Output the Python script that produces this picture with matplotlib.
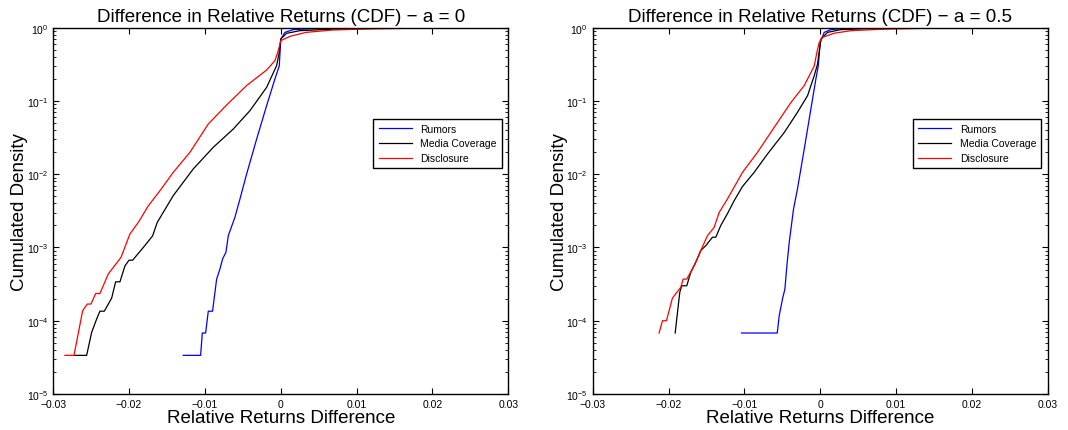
import numpy as np
import matplotlib
matplotlib.use('Agg')
import matplotlib.pyplot as plt

plt.rcParams['font.family'] = ['Liberation Sans', 'DejaVu Sans']
plt.rcParams['mathtext.fontset'] = 'custom'
plt.rcParams['mathtext.rm'] = 'Liberation Sans'

labels = ['Rumors', 'Media Coverage', 'Disclosure']
colors = ['#0000ff', '#000000', '#ff0000']

# a = 0 panel
rumors_x0 = [-0.01286, -0.01057, -0.01035, -0.00991, -0.00956, -0.0090, -0.00868, -0.00846,
             -0.00802, -0.00767, -0.00723, -0.00692, -0.00604, -0.00538, -0.00451, -0.00319,
             -0.00187, -0.00077, -0.0002, 0.0, 0.00055, 0.00165, 0.0047, 0.0113, 0.02]
rumors_y0 = [3.37e-5, 3.37e-5, 6.8e-5, 6.8e-5, 1.35e-4, 1.35e-4, 2.45e-4, 3.7e-4,
             5.1e-4, 7.0e-4, 8.6e-4, 1.45e-3, 2.6e-3, 4.6e-3, 0.010, 0.030,
             0.086, 0.20, 0.30, 0.70, 0.863, 0.94, 0.975, 0.995, 1.0]

media_x0 = [-0.0272, -0.0256, -0.02495, -0.02429, -0.02385, -0.02327, -0.0223, -0.02178,
            -0.02121, -0.02055, -0.02002, -0.01954, -0.01813, -0.0169, -0.01629, -0.01418,
            -0.01154, -0.0089, -0.00626, -0.00407, -0.00187, -0.00055, -0.0002, 0.0,
            0.00077, 0.00253, 0.0069, 0.0157, 0.0293]
media_y0 = [3.37e-5, 3.37e-5, 6.9e-5, 1.05e-4, 1.35e-4, 1.35e-4, 2.04e-4, 3.4e-4,
            3.4e-4, 5.6e-4, 6.7e-4, 6.7e-4, 1.0e-3, 1.44e-3, 2.2e-3, 5.1e-3,
            0.0118, 0.0233, 0.0414, 0.0736, 0.153, 0.303, 0.46, 0.70,
            0.837, 0.91, 0.955, 0.99, 1.0]

discl_x0 = [-0.02846, -0.02727, -0.02613, -0.02552, -0.02503, -0.02442, -0.02385, -0.02275,
            -0.02108, -0.01989, -0.01879, -0.01747, -0.01593, -0.01418, -0.01198, -0.00956,
            -0.00714, -0.00451, -0.00187, -0.00077, -0.00033, 0.0, 0.00123, 0.00334,
            0.00692, 0.0113, 0.02, 0.0293]
discl_y0 = [3.37e-5, 3.37e-5, 1.37e-4, 1.69e-4, 1.69e-4, 2.35e-4, 2.35e-4, 4.35e-4,
            7.3e-4, 1.53e-3, 2.2e-3, 3.7e-3, 5.96e-3, 0.0106, 0.0199, 0.0484,
            0.088, 0.162, 0.264, 0.355, 0.486, 0.665, 0.762, 0.863,
            0.93, 0.96, 0.99, 1.0]

# a = 0.5 panel
rumors_x5 = [-0.01038, -0.00567, -0.00541, -0.00497, -0.00466, -0.0044, -0.00409, -0.00352,
             -0.003, -0.00211, -0.00123, -0.00057, -0.00026, 0.0, 0.00053, 0.00141,
             0.00317, 0.00625, 0.015]
rumors_y5 = [6.8e-5, 6.8e-5, 1.17e-4, 2.0e-4, 2.7e-4, 5.6e-4, 1.17e-3, 3.35e-3,
             6.3e-3, 0.022, 0.078, 0.20, 0.30, 0.63, 0.863, 0.94,
             0.98, 1.0, 1.0]

media_x5 = [-0.01913, -0.01852, -0.01826, -0.0176, -0.01707, -0.01641, -0.01575, -0.01509,
            -0.01421, -0.01377, -0.01311, -0.01223, -0.01135, -0.01025, -0.00871, -0.00695,
            -0.00475, -0.003, -0.00167, -0.00079, -0.00035, -0.00009, 0.00009, 0.00097,
            0.00273, 0.0063, 0.02]
media_y5 = [6.8e-5, 2.45e-4, 3.0e-4, 3.0e-4, 4.6e-4, 6.3e-4, 9.1e-4, 1.06e-3,
            1.38e-3, 1.38e-3, 2.0e-3, 2.9e-3, 4.35e-3, 6.8e-3, 0.0106, 0.0189,
            0.037, 0.07, 0.118, 0.221, 0.32, 0.51, 0.70, 0.863,
            0.94, 0.97, 1.0]

discl_x5 = [-0.02125, -0.0208, -0.02028, -0.01949, -0.01839, -0.01808, -0.0176, -0.01663,
            -0.01575, -0.01487, -0.01399, -0.01333, -0.01223, -0.01025, -0.00827, -0.00607,
            -0.00387, -0.00211, -0.00079, -0.00044, -0.00013, 0.00031, 0.00185, 0.00405,
            0.00845, 0.0150, 0.02406]
discl_y5 = [6.8e-5, 1.0e-4, 1.0e-4, 2.04e-4, 2.86e-4, 3.7e-4, 3.7e-4, 5.6e-4,
            9.1e-4, 1.45e-3, 1.88e-3, 3.0e-3, 4.6e-3, 0.0106, 0.0199, 0.0436,
            0.095, 0.162, 0.30, 0.46, 0.63, 0.74, 0.84, 0.91,
            0.955, 0.985, 1.0]

panels = [
    ('Difference in Relative Returns (CDF) \u2212 a = 0',
     [(rumors_x0, rumors_y0), (media_x0, media_y0), (discl_x0, discl_y0)]),
    ('Difference in Relative Returns (CDF) \u2212 a = 0.5',
     [(rumors_x5, rumors_y5), (media_x5, media_y5), (discl_x5, discl_y5)]),
]

fig = plt.figure(figsize=(10.68, 4.31), dpi=100)
lefts = [0.0499, 0.555]

for left, (title, series) in zip(lefts, panels):
    ax = fig.add_axes([left, 0.0835, 0.426, 0.85])
    for (xs, ys), lab, col in zip(series, labels, colors):
        ax.plot(xs, ys, color=col, lw=0.9, label=lab)
    ax.set_yscale('log')
    ax.set_xlim(-0.03, 0.03)
    ax.set_ylim(1e-5, 1)
    ax.set_xticks([-0.03, -0.02, -0.01, 0, 0.01, 0.02, 0.03])
    ax.set_xticklabels(['\u22120.03', '\u22120.02', '\u22120.01', '0', '0.01', '0.02', '0.03'])
    ax.tick_params(which='both', direction='in', top=True, right=True, labelsize=7.5)
    ax.tick_params(which='major', length=4)
    ax.tick_params(which='minor', length=2)
    for s in ax.spines.values():
        s.set_linewidth(1.0)
    ax.set_title(title, fontsize=13.5, pad=5)
    ax.set_xlabel('Relative Returns Difference', fontsize=13.5, labelpad=0)
    ax.set_ylabel('Cumulated Density', fontsize=13.5, labelpad=-1)
    leg = ax.legend(loc='upper left', bbox_to_anchor=(0.692, 0.766), fontsize=7.5,
                    fancybox=False, framealpha=1, edgecolor='black', handlelength=3.2,
                    borderpad=0.5, labelspacing=0.45)
    leg.get_frame().set_linewidth(1.0)

fig.savefig('out.png', dpi=100)
